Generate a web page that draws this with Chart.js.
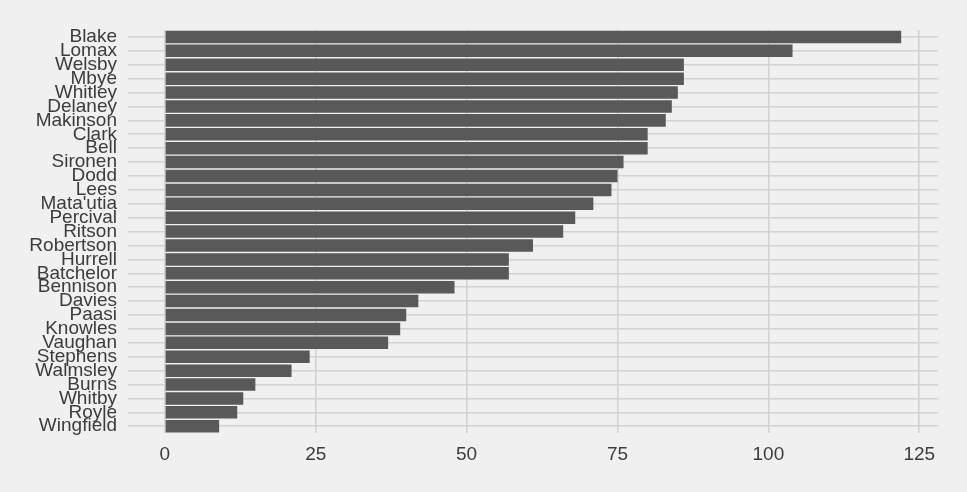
<!DOCTYPE html>
<html>
<head>
<meta charset="utf-8">
<script src="https://cdn.jsdelivr.net/npm/chart.js@4"></script>
<style>
  html, body { margin: 0; padding: 0; background: #F0F0F0; }
  #wrap { width: 967px; height: 492px; }
</style>
</head>
<body>
<div id="wrap"><canvas id="myChart" width="967" height="492"></canvas></div>
<script>
// players, top to bottom
var players = ['Blake','Lomax','Welsby','Mbye','Whitley','Delaney','Makinson','Clark','Bell','Sironen',
  'Dodd','Lees',"Mata'utia",'Percival','Ritson','Robertson','Hurrell','Batchelor','Bennison','Davies',
  'Paasi','Knowles','Vaughan','Stephens','Walmsley','Burns','Whitby','Royle','Wingfield'];
var values = [122,104,86,86,85,84,83,80,80,76,
  75,74,71,68,66,61,57,57,48,42,
  40,39,37,24,21,15,13,12,9];
var xTicks = [0,25,50,75,100,125];

var gridCol = '#D2D2D2';
var textCol = '#3C3C3C';

var ctx = document.getElementById("myChart");
var myChart = new Chart(ctx, {
    type: 'bar',
    data: {
        labels: players,
        datasets: [{
            data: values,
            backgroundColor: '#595959',
            borderWidth: 0,
            categoryPercentage: 0.9,
            barPercentage: 1.0
        }]
    },
    options: {
        indexAxis: 'y',
        responsive: false,
        animation: false,
        devicePixelRatio: 1,
        layout: { padding: { left: 0, right: 29, top: 30, bottom: 16 } },
        plugins: { legend: { display: false }, tooltip: { enabled: false } },
        scales: {
            x: {
                min: -6.1,
                max: 128.1,
                afterBuildTicks: function (axis) {
                    axis.ticks = xTicks.map(function (v) { return { value: v }; });
                },
                border: { display: false },
                grid: { color: gridCol, lineWidth: 1.6, drawTicks: false },
                ticks: {
                    color: textCol,
                    font: { family: 'Liberation Sans', size: 19 },
                    padding: 10,
                    maxRotation: 0,
                    autoSkip: false
                }
            },
            y: {
                offset: true,
                afterFit: function (axis) { axis.width = 128; },
                border: { display: false },
                grid: { color: gridCol, lineWidth: 1.6, drawTicks: false, offset: false },
                ticks: {
                    color: textCol,
                    font: { family: 'Liberation Sans', size: 19 },
                    padding: 11,
                    autoSkip: false
                }
            }
        }
    }
});
</script>
</body>
</html>
